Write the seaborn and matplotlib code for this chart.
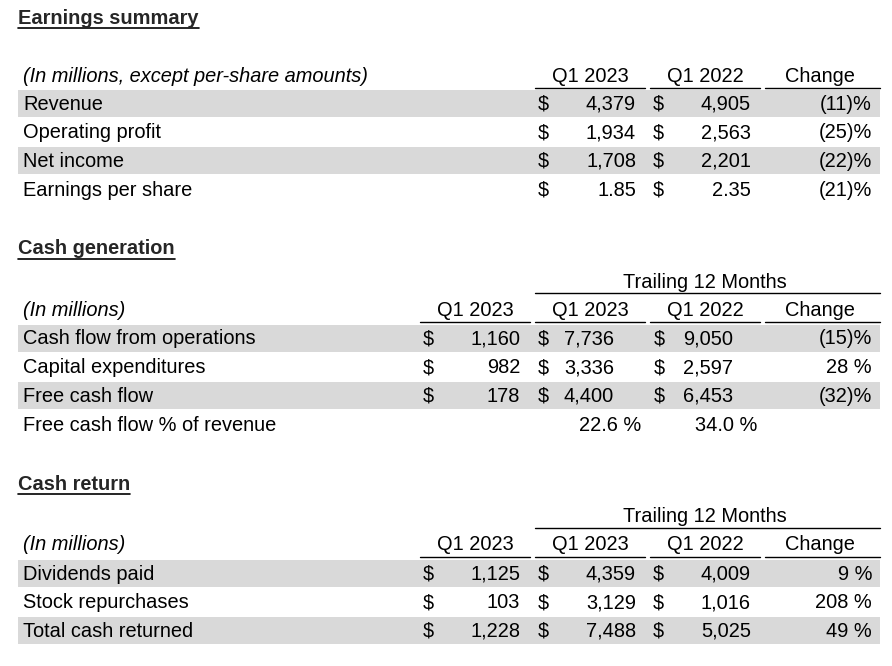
import matplotlib.pyplot as plt
import seaborn as sns

sns.set_style("white")
plt.rcParams["font.family"] = ["Liberation Sans", "DejaVu Sans"]

# earnings summary
earn_labels = ["Revenue", "Operating profit", "Net income", "Earnings per share"]
earn_q1_2023 = ["4,379", "1,934", "1,708", "1.85"]
earn_q1_2022 = ["4,905", "2,563", "2,201", "2.35"]
earn_change = ["(11)%", "(25)%", "(22)%", "(21)%"]

# cash generation
cash_labels = ["Cash flow from operations", "Capital expenditures", "Free cash flow",
               "Free cash flow % of revenue"]
cash_q1_2023 = ["1,160", "982", "178", ""]
cash_ttm_2023 = ["7,736", "3,336", "4,400", "22.6 %"]
cash_ttm_2022 = ["9,050", "2,597", "6,453", "34.0 %"]
cash_change = ["(15)%", "28 %", "(32)%", ""]

# cash return
ret_labels = ["Dividends paid", "Stock repurchases", "Total cash returned"]
ret_q1_2023 = ["1,125", "103", "1,228"]
ret_ttm_2023 = ["4,359", "3,129", "7,488"]
ret_ttm_2022 = ["4,009", "1,016", "5,025"]
ret_change = ["9 %", "208 %", "49 %"]

FS = 14.4
GRAY = "#d9d9d9"

fig = plt.figure(figsize=(8.92, 6.66), dpi=100)
ax = fig.add_axes([0, 0, 1, 1])
ax.set_xlim(0, 892)
ax.set_ylim(666, 0)
ax.axis("off")


def txt(x, y, s, ha="left", **kw):
    ax.text(x, y + 1, s, ha=ha, va="center", fontsize=FS, color="black", **kw)


def title(y, s):
    t = ax.text(18, y, s, ha="left", va="center", fontsize=FS, fontweight="bold")
    fig.canvas.draw()
    bb = t.get_window_extent().transformed(ax.transData.inverted())
    ax.plot([bb.x0, bb.x1], [y + 10, y + 10], color="black", lw=1.2)


def header(y, cols):
    for xc, x0, x1, s in cols:
        txt(xc, y, s, ha="center")
        ax.plot([x0, x1], [y + 13, y + 13], color="black", lw=1)


def band(y):
    ax.add_patch(plt.Rectangle((18, y - 13.5), 862, 27, color=GRAY, lw=0, zorder=0))


RH = 28.7

# section 1
title(18, "Earnings summary")
txt(23, 75, "(In millions, except per-share amounts)", style="italic")
header(75, [(590, 535, 645, "Q1 2023"), (705, 650, 760, "Q1 2022"), (820, 765, 880, "Change")])
for i, lab in enumerate(earn_labels):
    y = 103 + i * RH
    if i % 2 == 0:
        band(y)
    txt(23, y, lab)
    txt(538, y, "$")
    txt(636, y, earn_q1_2023[i], ha="right")
    txt(653, y, "$")
    txt(751, y, earn_q1_2022[i], ha="right")
    txt(872, y, earn_change[i], ha="right")

# section 2
title(249, "Cash generation")
txt(705, 281, "Trailing 12 Months", ha="center")
ax.plot([535, 880], [293, 293], color="black", lw=1)
txt(23, 309, "(In millions)", style="italic")
header(309, [(475, 420, 530, "Q1 2023"), (590, 535, 645, "Q1 2023"),
             (705, 650, 760, "Q1 2022"), (820, 765, 880, "Change")])
for i, lab in enumerate(cash_labels):
    y = 338 + i * RH
    if i % 2 == 0:
        band(y)
    txt(23, y, lab)
    if cash_q1_2023[i]:
        txt(423, y, "$")
        txt(520, y, cash_q1_2023[i], ha="right")
        txt(538, y, "$")
        txt(614, y, cash_ttm_2023[i], ha="right")
        txt(654, y, "$")
        txt(733, y, cash_ttm_2022[i], ha="right")
        txt(872, y, cash_change[i], ha="right")
    else:
        txt(641, y, cash_ttm_2023[i], ha="right")
        txt(757, y, cash_ttm_2022[i], ha="right")

# section 3
title(484, "Cash return")
txt(705, 516, "Trailing 12 Months", ha="center")
ax.plot([535, 880], [528, 528], color="black", lw=1)
txt(23, 544, "(In millions)", style="italic")
header(544, [(475, 420, 530, "Q1 2023"), (590, 535, 645, "Q1 2023"),
             (705, 650, 760, "Q1 2022"), (820, 765, 880, "Change")])
for i, lab in enumerate(ret_labels):
    y = 573 + i * RH
    if i % 2 == 0:
        band(y)
    txt(23, y, lab)
    txt(423, y, "$")
    txt(520, y, ret_q1_2023[i], ha="right")
    txt(538, y, "$")
    txt(636, y, ret_ttm_2023[i], ha="right")
    txt(653, y, "$")
    txt(751, y, ret_ttm_2022[i], ha="right")
    txt(872, y, ret_change[i], ha="right")

fig.savefig("out.png", dpi=100)
